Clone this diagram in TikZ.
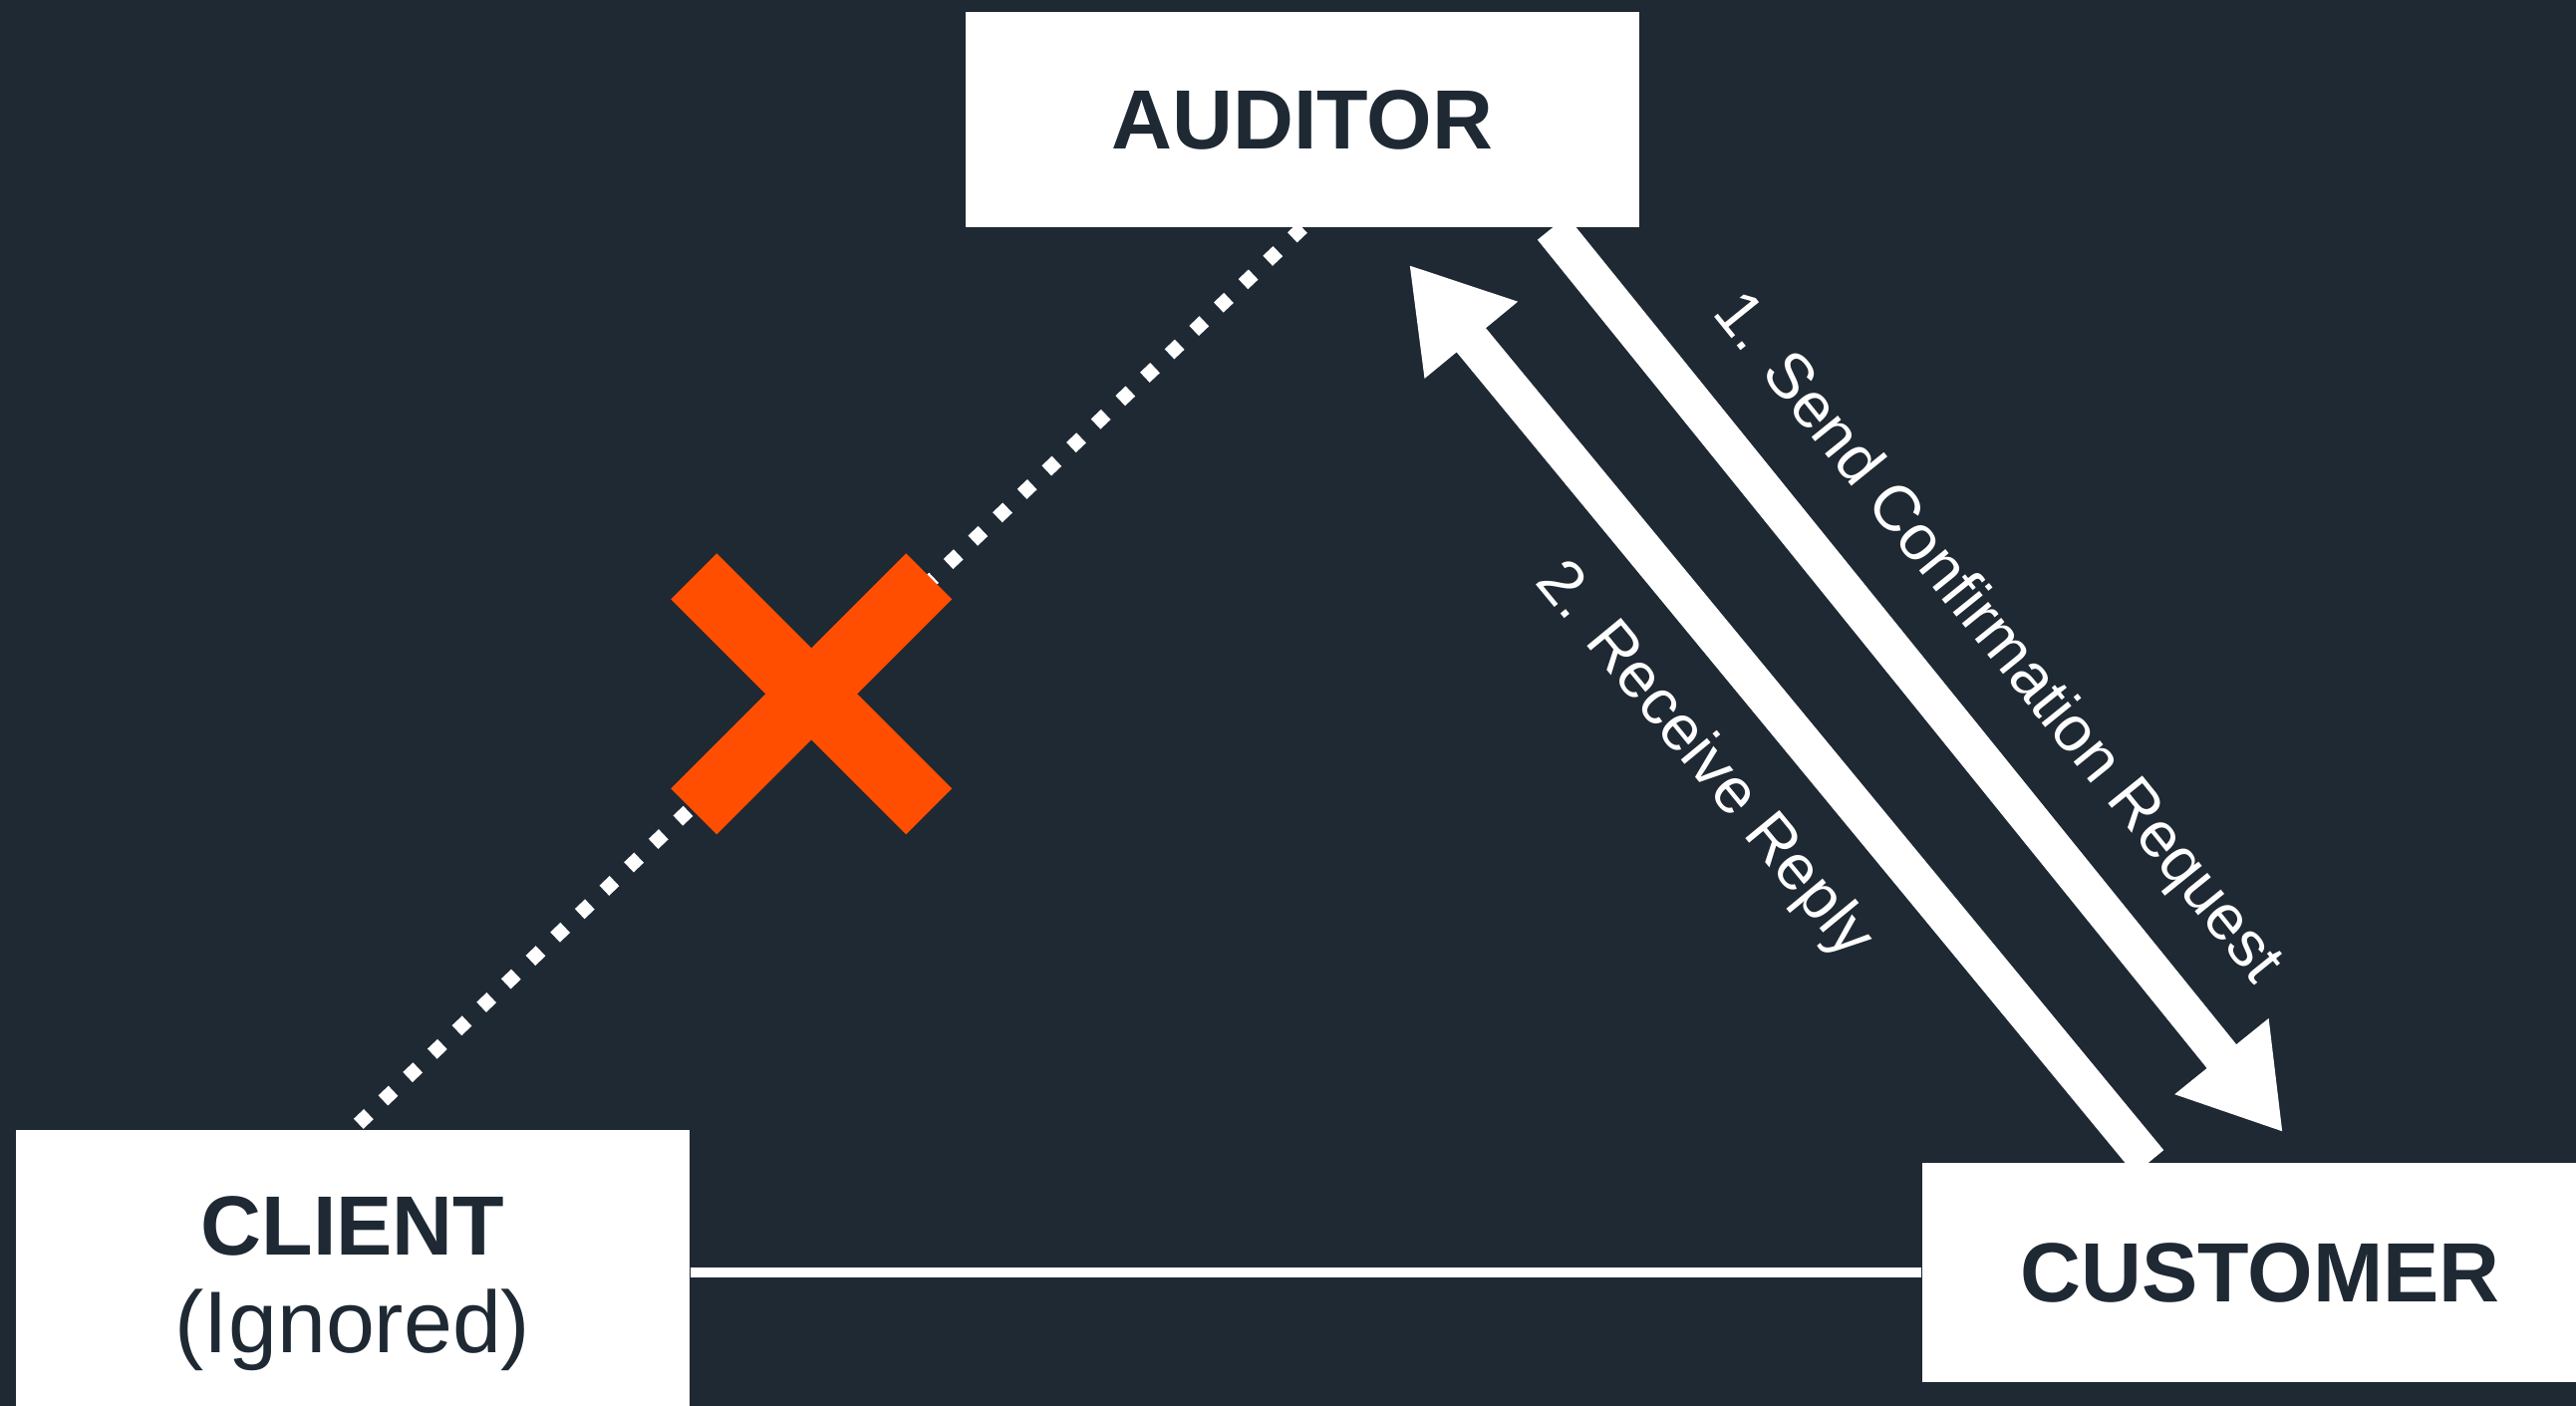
\documentclass[tikz,border=0pt]{standalone}
\usepackage{fontspec}
\setmainfont{Liberation Sans}
\usetikzlibrary{arrows.meta,calc,positioning}

\definecolor{navy}{RGB}{30,41,51}
\definecolor{xorange}{RGB}{255,78,0}

\tikzset{
	party/.style={fill=white, text=navy, font=\bfseries\fontsize{24}{28}\selectfont,
		minimum width=6.76cm, inner sep=0pt, align=center},
	msgarrow/.style={white, line width=0.38cm, -{Triangle[length=0.98cm,width=1.14cm]}},
	msglabel/.style={text=white, font=\fontsize{18.3}{19}\selectfont, inner sep=0pt, sloped},
	ignoredlink/.style={white, line width=0.14cm, dash pattern=on 0.14cm off 0.2cm},
	xbar/.style={xorange, line width=0.65cm}
}

\begin{document}
\begin{tikzpicture}

		\def\W{25.85} \def\H{14.11}
		\def\arm{1.18} % half diagonal of the cross

		% background, fixes the page size
		\fill[navy] (0,0) rectangle (\W,\H);
		\useasboundingbox (0,0) rectangle (\W,\H);

		% the three parties
		\node[party, minimum height=2.16cm] (auditor) at (13.07,12.91) {AUDITOR};
		\node[party, minimum height=2.86cm, font=\fontsize{24}{28}\selectfont] (client) at (3.54,1.34)
			{\rule{0pt}{0.81cm}{\bfseries CLIENT}\\{\fontsize{25}{28}\selectfont (Ignored)}};
		\node[party, minimum width=6.78cm, minimum height=2.20cm] (customer) at (22.68,1.34) {CUSTOMER};

		% client -- customer
		\draw[white, line width=0.1cm] (client) -- (customer);

		% auditor -- client, crossed out
		\draw[ignoredlink] (auditor.south) -- (client.north) coordinate[pos=0.517] (cut);
		\draw[xbar] ($(cut)+(-\arm,\arm)$) -- ($(cut)+(\arm,-\arm)$);
		\draw[xbar] ($(cut)+(-\arm,-\arm)$) -- ($(cut)+(\arm,\arm)$);

		% request and reply
		\draw[msgarrow] ($(auditor.south west)!0.87!(auditor.south east)$) -- ($(customer.north)+(0.23,0.30)$)
			node[msglabel, pos=0.515, above=0.38cm] {1. Send Confirmation Request};
		\draw[msgarrow] ($(customer.north west)!0.336!(customer.north east)$) -- ($(auditor.south)+(1.07,-0.37)$)
			node[msglabel, pos=0.51, below=0.40cm] {2. Receive Reply};

\end{tikzpicture}
\end{document}
